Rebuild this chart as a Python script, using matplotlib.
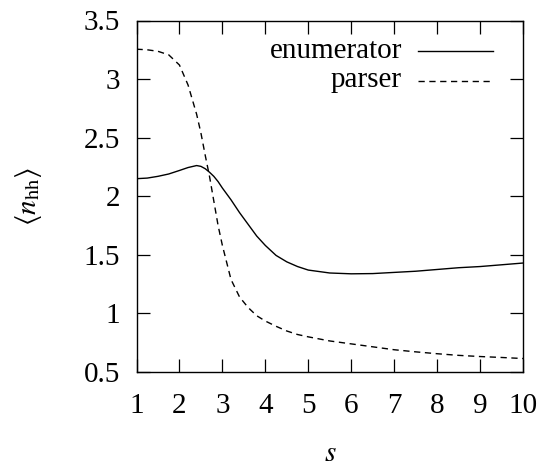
import matplotlib
matplotlib.use("Agg")
import matplotlib.pyplot as plt
from matplotlib.ticker import FormatStrFormatter

plt.rcParams.update({"font.family": "Liberation Serif", "mathtext.fontset": "stix"})

# data
s_vals = [1, 1.25, 1.5, 1.75, 2.0, 2.2, 2.4, 2.5, 2.6, 2.7, 2.8, 2.9, 3.0, 3.2, 3.4, 3.6, 3.8,
          4.0, 4.25, 4.5, 4.75, 5.0, 5.5, 6.0, 6.5, 7.0, 7.5, 8.0, 8.5, 9.0, 9.5, 10.0]
enumerator = [2.15, 2.155, 2.17, 2.19, 2.22, 2.245, 2.262, 2.255, 2.235, 2.205, 2.17, 2.125, 2.07,
              1.97, 1.86, 1.76, 1.66, 1.58, 1.495, 1.44, 1.40, 1.37, 1.345, 1.338, 1.34, 1.35,
              1.36, 1.375, 1.39, 1.40, 1.415, 1.43]
parser = [3.255, 3.25, 3.237, 3.207, 3.12, 2.95, 2.70, 2.54, 2.35, 2.17, 1.96, 1.75, 1.58,
          1.29, 1.14, 1.05, 0.98, 0.935, 0.89, 0.85, 0.82, 0.80, 0.765, 0.74, 0.715, 0.69,
          0.672, 0.656, 0.642, 0.632, 0.624, 0.615]
series_names = ["enumerator", "parser"]
x_ticks = [1, 2, 3, 4, 5, 6, 7, 8, 9, 10]
y_ticks = [0.5, 1, 1.5, 2, 2.5, 3, 3.5]

FS = 21
DASH = (0, (4.5, 3.3))

fig = plt.figure(figsize=(5.45, 4.66), dpi=100)
ax = fig.add_axes([136.5 / 545, 1 - 372 / 466, 386.5 / 545, 351.5 / 466])

ax.plot(s_vals, enumerator, color="black", lw=1.0)
ax.plot(s_vals, parser, color="black", lw=1.0, linestyle=DASH)

ax.set_xlim(1, 10); ax.set_ylim(0.5, 3.5)
ax.set_xticks(x_ticks); ax.set_yticks(y_ticks)
ax.yaxis.set_major_formatter(FormatStrFormatter("%g"))
ax.tick_params(direction="in", length=9.5, width=0.9, top=True, right=True, labelsize=FS)
ax.tick_params(axis="x", pad=15)
ax.tick_params(axis="y", pad=12)
for sp in ax.spines.values():
    sp.set_linewidth(1.0)

# gnuplot style legend: right aligned labels, sample line to the right
ax.text(0.687, 0.893, series_names[0], transform=ax.transAxes, ha="right", va="baseline", fontsize=FS)
ax.text(0.687, 0.810, series_names[1], transform=ax.transAxes, ha="right", va="baseline", fontsize=FS)
ax.plot([0.729, 0.922], [0.913, 0.913], transform=ax.transAxes, color="black", lw=1.0)
ax.plot([0.729, 0.922], [0.829, 0.829], transform=ax.transAxes, color="black", lw=1.0, linestyle=DASH)

fig.text(28 / 545, 1 - 196 / 466, r"$\langle n_{\rm hh}\rangle$", rotation=90,
         ha="center", va="center", fontsize=FS)
fig.text(330 / 545, 1 - 454 / 466, r"$s$", ha="center", va="center", fontsize=FS)

fig.savefig("out.png", dpi=100, facecolor="white")
